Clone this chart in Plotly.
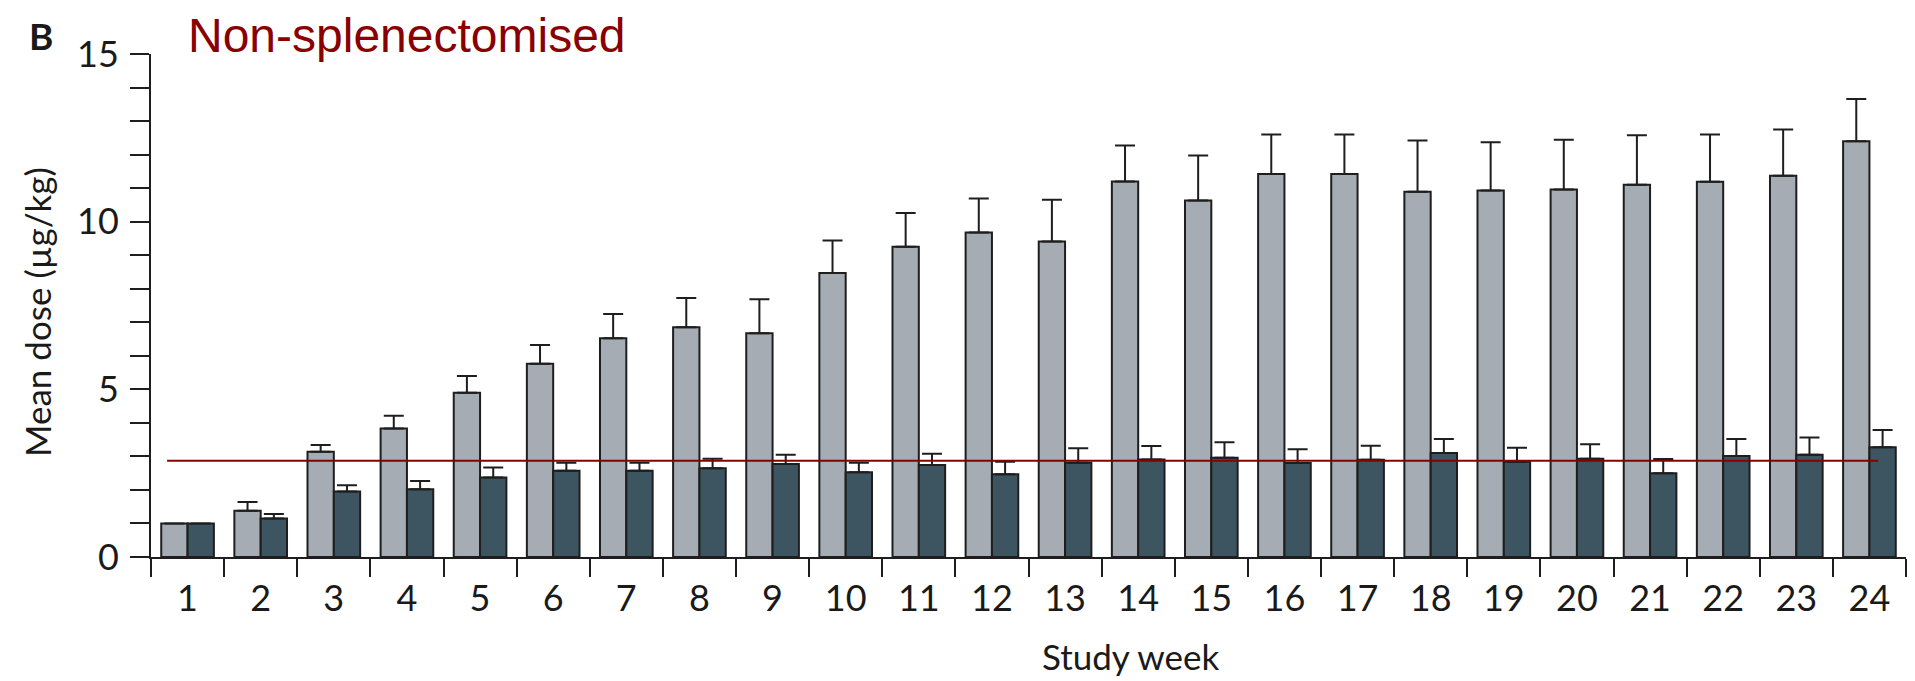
import plotly.graph_objects as go

# Study weeks (category labels on the x axis)
weeks = [str(w) for w in range(1, 25)]

# Mean weekly dose (µg/kg) and upper error bar length, light-grey group
placebo_mean = [1.00, 1.38, 3.14, 3.83, 4.90, 5.76, 6.52, 6.85, 6.67, 8.47, 9.25, 9.68,
                9.41, 11.20, 10.63, 11.42, 11.42, 10.89, 10.93, 10.96, 11.10, 11.19, 11.37, 12.40]
placebo_err = [0.00, 0.26, 0.20, 0.38, 0.50, 0.56, 0.73, 0.87, 1.02, 0.97, 1.01, 1.01,
               1.24, 1.07, 1.34, 1.18, 1.18, 1.53, 1.44, 1.48, 1.48, 1.41, 1.38, 1.26]

# Mean weekly dose (µg/kg) and upper error bar length, dark group
romiplostim_mean = [1.00, 1.15, 1.95, 2.02, 2.37, 2.57, 2.57, 2.65, 2.77, 2.53, 2.74, 2.47,
                    2.81, 2.91, 2.96, 2.80, 2.90, 3.10, 2.84, 2.93, 2.50, 3.01, 3.05, 3.27]
romiplostim_err = [0.00, 0.13, 0.19, 0.25, 0.30, 0.24, 0.24, 0.28, 0.28, 0.28, 0.34, 0.37,
                   0.43, 0.40, 0.46, 0.41, 0.42, 0.42, 0.42, 0.43, 0.42, 0.51, 0.51, 0.52]

# Reference dose level drawn as a horizontal line
reference_dose = 2.87

EDGE = "#1e1e1e"
TEXT = "#1a1a1a"
FONT = "Lato"

fig = go.Figure()

fig.add_trace(go.Bar(
    name="Placebo",
    x=weeks,
    y=placebo_mean,
    marker=dict(color="#a5acb3", line=dict(color=EDGE, width=2)),
    error_y=dict(type="data", symmetric=False, array=placebo_err,
                 arrayminus=[0] * len(placebo_err),
                 color=EDGE, thickness=2, width=10),
))

fig.add_trace(go.Bar(
    name="Romiplostim",
    x=weeks,
    y=romiplostim_mean,
    marker=dict(color="#3d5561", line=dict(color=EDGE, width=2)),
    error_y=dict(type="data", symmetric=False, array=romiplostim_err,
                 arrayminus=[0] * len(romiplostim_err),
                 color=EDGE, thickness=2, width=10),
))

# Horizontal reference line across the weeks
fig.add_shape(type="line", xref="x", yref="y",
              x0=-0.28, x1=23.12, y0=reference_dose, y1=reference_dose,
              line=dict(color="#8a0000", width=2), layer="above")

fig.update_layout(
    width=1915,
    height=681,
    margin=dict(l=151, r=9, t=54, b=124),
    paper_bgcolor="white",
    plot_bgcolor="white",
    barmode="group",
    bargap=0.28,
    bargroupgap=0,
    showlegend=False,
    font=dict(family=FONT, size=35, color=TEXT),
)

fig.update_xaxes(
    type="category",
    showline=True, linecolor=EDGE, linewidth=2,
    ticks="outside", tickson="boundaries", ticklen=18, tickwidth=2, tickcolor=EDGE,
    tickfont=dict(family=FONT, size=36, color=TEXT),
    ticklabelstandoff=9,
    showgrid=False, zeroline=False,
)

fig.update_yaxes(
    range=[0, 15],
    showline=True, linecolor=EDGE, linewidth=2,
    ticks="outside", ticklen=19, tickwidth=2, tickcolor=EDGE,
    tickmode="linear", tick0=0, dtick=5,
    minor=dict(ticks="outside", ticklen=19, tickwidth=2, tickcolor=EDGE, dtick=1, showgrid=False),
    tickfont=dict(family=FONT, size=36, color=TEXT),
    ticklabelstandoff=4,
    showgrid=False, zeroline=False,
)

annotations = [
    # panel letter
    dict(text="<b>B</b>", x=-0.0627, y=1.037, xref="paper", yref="paper",
         xanchor="center", yanchor="middle", showarrow=False,
         font=dict(family=FONT, size=37, color=TEXT)),
    # panel title
    dict(text="Non-splenectomised", x=0.02, y=1.036, xref="paper", yref="paper",
         xanchor="left", yanchor="middle", showarrow=False,
         font=dict(family="Liberation Sans", size=48, color="#8a0000")),
    # y axis title
    dict(text="Mean dose (µg/kg)", x=-0.065, y=0.487, xref="paper", yref="paper",
         xanchor="center", yanchor="middle", textangle=-90, showarrow=False,
         font=dict(family=FONT, size=35, color=TEXT)),
    # x axis title
    dict(text="Study week", x=0.558, y=-0.197, xref="paper", yref="paper",
         xanchor="center", yanchor="middle", showarrow=False,
         font=dict(family=FONT, size=35, color=TEXT)),
]
fig.update_layout(annotations=annotations)

fig.write_html("out.html")
